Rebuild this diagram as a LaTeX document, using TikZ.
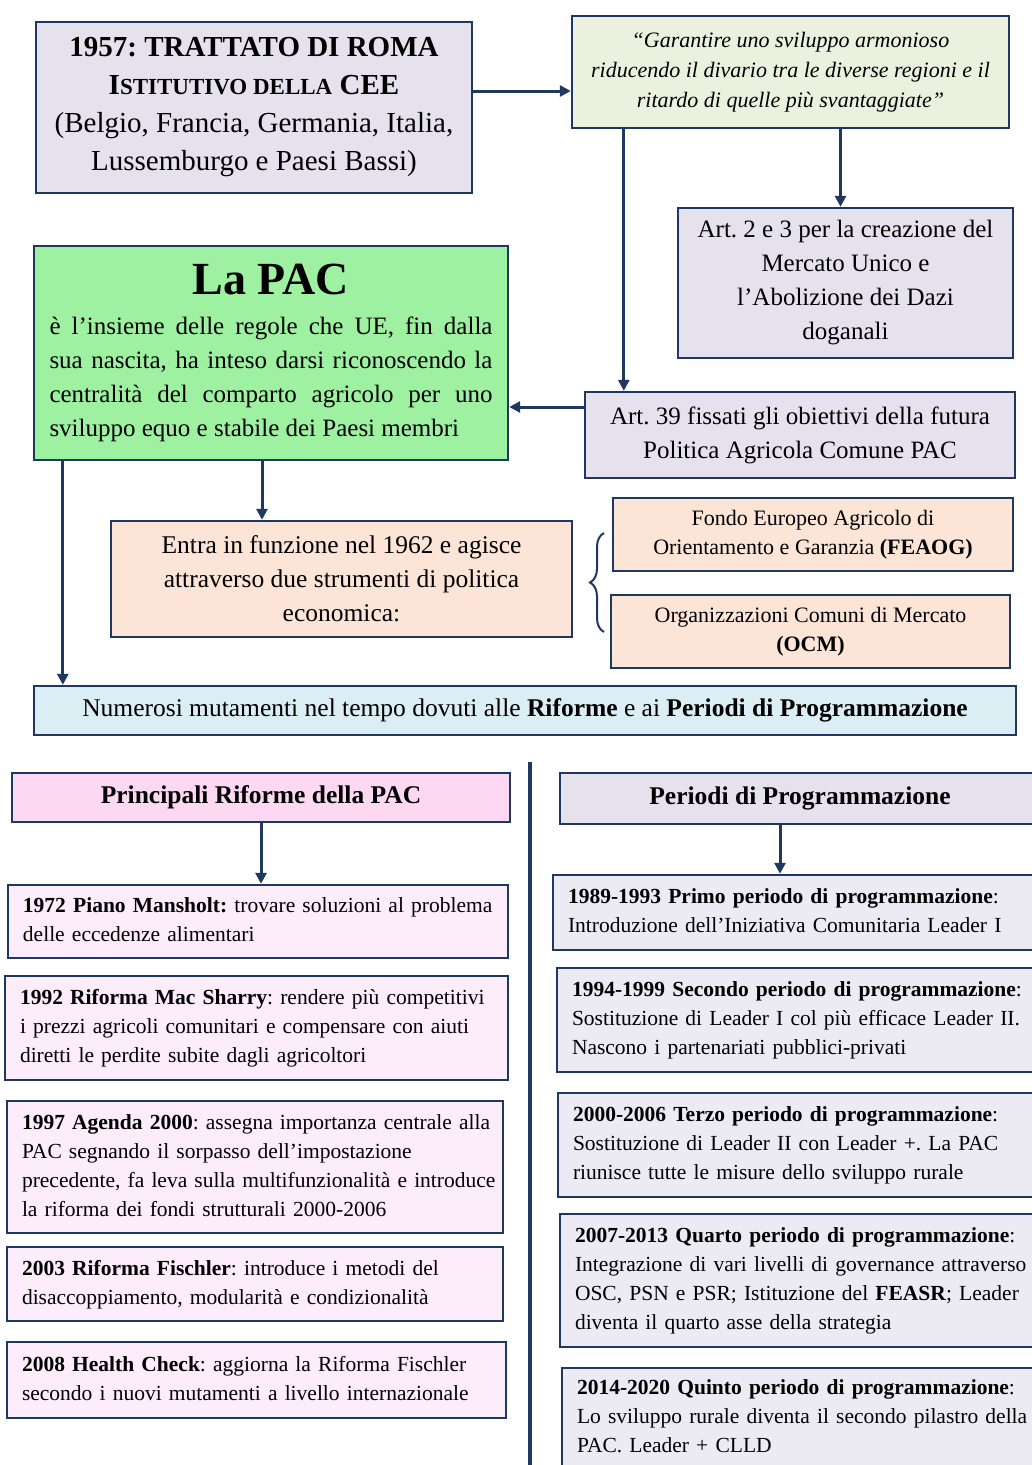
\documentclass[tikz,border=0pt]{standalone}
\usepackage{fontspec}
\setmainfont{Liberation Serif}
\usetikzlibrary{arrows.meta,positioning,decorations.pathreplacing}

\definecolor{navy}{RGB}{31,56,96}
\definecolor{lavender}{RGB}{229,225,237}
\definecolor{lightlav}{RGB}{236,234,243}
\definecolor{quotegreen}{RGB}{235,241,222}
\definecolor{pacgreen}{RGB}{158,241,160}
\definecolor{peach}{RGB}{252,229,214}
\definecolor{paleblue}{RGB}{219,238,244}
\definecolor{pinkhead}{RGB}{252,216,242}
\definecolor{pinkitem}{RGB}{253,236,250}

\newcommand{\itemlines}[1]{\begin{tabular}{@{}l@{}}#1\end{tabular}}

\frenchspacing
\hyphenpenalty=10000

\begin{document}
\begin{tikzpicture}[x=1pt,y=-1pt,
                    box/.style={rectangle,draw=navy,line width=2.4pt,inner sep=0pt,align=center},
                    item box/.style={box,inner xsep=15pt,align=left,
                      font=\fontsize{21.5}{29}\selectfont},
                    link/.style={draw=navy,line width=3pt,-{Triangle[length=11pt,width=11pt]}}]

  \clip (0,0) rectangle (1032,1465);
  \fill[white] (0,0) rectangle (1032,1465);

  % upper part
  \node[box,fill=lavender,minimum width=436pt,minimum height=171pt,
        font=\fontsize{29}{38}\selectfont] (treaty) at (254,107.5)
    {\textbf{1957: TRATTATO DI ROMA}\\
     \textbf{I{\fontsize{23}{38}\selectfont STITUTIVO DELLA} CEE}\\
     (Belgio, Francia, Germania, Italia,\\ Lussemburgo e Paesi Bassi)};
  \node[box,fill=quotegreen,minimum width=437pt,minimum height=112pt,
        font=\fontsize{22}{30}\selectfont\itshape] (quote) at (790.5,72)
    {“Garantire uno sviluppo armonioso\\
     riducendo il divario tra le diverse regioni e il\\
     ritardo di quelle più svantaggiate”};
  \node[box,fill=lavender,minimum width=335pt,minimum height=150pt,
        font=\fontsize{25}{34}\selectfont] (art2) at (845.5,283)
    {Art. 2 e 3 per la creazione del\\ Mercato Unico e\\
     l’Abolizione dei Dazi\\ doganali};
  \node[box,fill=lavender,minimum width=430pt,minimum height=86pt,
        font=\fontsize{25}{34}\selectfont] (art39) at (800,435)
    {Art. 39 fissati gli obiettivi della futura\\ Politica Agricola Comune PAC};
  \node[box,fill=pacgreen,minimum width=474pt,minimum height=214pt,
        font=\fontsize{25}{34}\selectfont] (pac) at (271,353)
    {{\fontsize{46}{50}\selectfont\bfseries La PAC}\\[6pt]
     \makebox[443pt][s]{è l'insieme delle regole che UE, fin dalla}\\
     \makebox[443pt][s]{sua nascita, ha inteso darsi riconoscendo la}\\
     \makebox[443pt][s]{centralità del comparto agricolo per uno}\\
     \makebox[443pt][l]{sviluppo equo e stabile dei Paesi membri}};

  % PAC tools
  \node[box,fill=peach,minimum width=461pt,minimum height=116pt,
        font=\fontsize{25.5}{34}\selectfont] (entra) at (341.5,579)
    {Entra in funzione nel 1962 e agisce\\ attraverso due strumenti di politica\\
     economica:};
  \node[box,fill=peach,minimum width=400pt,minimum height=73pt,
        font=\fontsize{22}{29}\selectfont] (feaog) at (813,534.5)
    {Fondo Europeo Agricolo di\\ Orientamento e Garanzia \textbf{(FEAOG)}};
  \node[box,fill=peach,minimum width=399pt,minimum height=73pt,
        font=\fontsize{22}{29}\selectfont] (ocm) at (810.5,631.5)
    {Organizzazioni Comuni di Mercato\\ \textbf{(OCM)}};
  \node[box,fill=paleblue,minimum width=982pt,minimum height=49pt,
        font=\fontsize{25.5}{34}\selectfont] (numerosi) at (525,710.5)
    {Numerosi mutamenti nel tempo dovuti alle \textbf{Riforme} e ai
     \textbf{Periodi di Programmazione}};

  % reforms
  \node[box,fill=pinkhead,minimum width=498pt,minimum height=49pt,
        font=\fontsize{25.5}{30}\selectfont\bfseries] (riforme) at (261,797.5)
    {Principali Riforme della PAC};
  \node[item box,fill=pinkitem,minimum width=500pt,minimum height=73pt,
        text width=470pt] (r1972) at (258,921.5)
    {\itemlines{\textbf{1972 Piano Mansholt:} trovare soluzioni al problema\\
     delle eccedenze alimentari}};
  \node[item box,fill=pinkitem,minimum width=503pt,minimum height=104pt,
        text width=473pt] (r1992) at (256.5,1028)
    {\itemlines{\textbf{1992 Riforma Mac Sharry}: rendere più competitivi\\
     i prezzi agricoli comunitari e compensare con aiuti\\
     diretti le perdite subite dagli agricoltori}};
  \node[item box,fill=pinkitem,minimum width=496pt,minimum height=132pt,
        text width=466pt] (r1997) at (255,1167)
    {\itemlines{\textbf{1997 Agenda 2000}: assegna importanza centrale alla\\
     PAC segnando il sorpasso dell’impostazione\\
     precedente, fa leva sulla multifunzionalità e introduce\\
     la riforma dei fondi strutturali 2000-2006}};
  \node[item box,fill=pinkitem,minimum width=496pt,minimum height=74pt,
        text width=466pt] (r2003) at (255,1284)
    {\itemlines{\textbf{2003 Riforma Fischler}: introduce i metodi del\\
     disaccoppiamento, modularità e condizionalità}};
  \node[item box,fill=pinkitem,minimum width=499pt,minimum height=76pt,
        text width=469pt] (r2008) at (256.5,1380)
    {\itemlines{\textbf{2008 Health Check}: aggiorna la Riforma Fischler\\
     secondo i nuovi mutamenti a livello internazionale}};

  % programming periods
  \node[box,fill=lavender,minimum width=490pt,minimum height=51pt,
        font=\fontsize{25.5}{30}\selectfont\bfseries] (periodi) at (805,798.5)
    {\hspace*{-10pt}Periodi di Programmazione};
  \node[item box,fill=lightlav,minimum width=497pt,minimum height=75pt,
        text width=467pt] (p1989) at (801.5,912.5)
    {\itemlines{\textbf{1989-1993 Primo periodo di programmazione}:\\
     Introduzione dell’Iniziativa Comunitaria Leader I}};
  \node[item box,fill=lightlav,minimum width=493pt,minimum height=104pt,
        text width=463pt] (p1994) at (803.5,1020)
    {\itemlines{\textbf{1994-1999 Secondo periodo di programmazione}:\\
     Sostituzione di Leader I col più efficace Leader II.\\
     Nascono i partenariati pubblici-privati}};
  \node[item box,fill=lightlav,minimum width=492pt,minimum height=104pt,
        text width=462pt] (p2000) at (804,1145)
    {\itemlines{\textbf{2000-2006 Terzo periodo di programmazione}:\\
     Sostituzione di Leader II con Leader +. La PAC\\
     riunisce tutte le misure dello sviluppo rurale}};
  \node[item box,fill=lightlav,minimum width=490pt,minimum height=133pt,
        text width=460pt] (p2007) at (805,1280.5)
    {\itemlines{\textbf{2007-2013 Quarto periodo di programmazione}:\\
     Integrazione di vari livelli di governance attraverso\\
     OSC, PSN e PSR; Istituzione del \textbf{FEASR}; Leader\\
     diventa il quarto asse della strategia}};
  \node[item box,fill=lightlav,minimum width=488pt,minimum height=100pt,
        text width=458pt] (p2014) at (806,1418)
    {\itemlines{\textbf{2014-2020 Quinto periodo di programmazione}:\\
     Lo sviluppo rurale diventa il secondo pilastro della\\
     PAC. Leader + CLLD}};

  % connectors
  \draw[link] ([yshift=16.5pt]treaty.east) -- ([yshift=16.5pt]treaty.east -| quote.west);
  \draw[link] ([xshift=-5pt]art2.north |- quote.south) -- ([xshift=-5pt]art2.north);
  \draw[link] ([xshift=53pt]quote.south west) -- ([xshift=53pt]quote.south west |- art39.north);
  \draw[link] ([yshift=28pt]art39.west) -- ([yshift=28pt]art39.west -| pac.east);
  \draw[link] ([xshift=-9pt]pac.south) -- ([xshift=-9pt]pac.south |- entra.north);
  \draw[link] ([xshift=30pt]pac.south west) -- ([xshift=30pt]pac.south west |- numerosi.north);
  \draw[link] (riforme.south) -- (riforme.south |- r1972.north);
  \draw[link] ([xshift=-25pt]periodi.south) -- ([xshift=-25pt]periodi.south |- p1989.north);

  \coordinate (brace low) at (604,632);
  \coordinate (brace high) at (604,533);
  \draw[navy,line width=2pt,decorate,decoration={brace,amplitude=14pt}]
    (brace low) -- (brace high);

  \coordinate (split top) at (530,762);
  \coordinate (split end) at (530,1465);
  \draw[navy,line width=4pt] (split top) -- (split end);
\end{tikzpicture}
\end{document}
